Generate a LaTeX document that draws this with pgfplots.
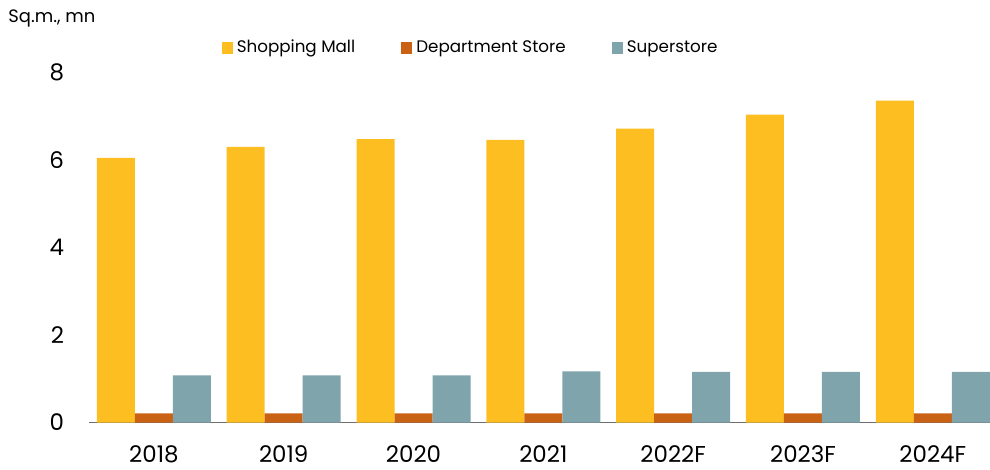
\documentclass[border=0pt]{standalone}
\usepackage{pgfplots}
\pgfplotsset{compat=1.18}
\usepackage{fontspec}
\setmainfont{Poppins}
\definecolor{mallyellow}{RGB}{253,190,34}
\definecolor{deptorange}{RGB}{202,98,22}
\definecolor{superteal}{RGB}{127,164,172}
\definecolor{axisgray}{RGB}{110,110,110}

\begin{document}
\begin{tikzpicture}
  % frame of 990x470 px, 1 px = 0.5 bp
  \useasboundingbox (0bp,0bp) rectangle (495bp,235bp);
  \clip (0bp,0bp) rectangle (495bp,235bp);
  \begin{axis}[
      at={(44.5bp,23.75bp)}, anchor=south west,
      scale only axis,
      width=451.1bp, height=175bp,
      ybar=0pt, bar width=19bp,
      xmin=-0.5, xmax=6.45, ymin=0, ymax=8,
      xtick={0,...,6},
      xticklabels={2018,2019,2020,2021,2022F,2023F,2024F},
      ytick={0,2,4,6,8},
      axis x line=bottom, axis y line=left,
      x axis line style={axisgray, line width=0.8pt, -},
      y axis line style={draw=none},
      major tick length=0pt,
      xticklabel style={font=\fontsize{11.5}{12}\selectfont, yshift=-8bp},
      yticklabel style={font=\fontsize{11.5}{12}\selectfont, xshift=-9bp},
      /pgf/number format/assume math mode=true,
      clip=false,
      legend style={at={(0.424,1.07)}, anchor=center,
        draw=none, legend columns=3, font=\fontsize{8.4}{9}\selectfont,
        /tikz/every even column/.append style={column sep=21bp}},
      legend image code/.code={\fill[#1] (0bp,-2.8bp) rectangle (5.6bp,2.8bp);},
    ]
    \addplot[fill=mallyellow, draw=none] coordinates {(0,6.05)(1,6.30)(2,6.48)(3,6.46)(4,6.72)(5,7.04)(6,7.36)};
    \addlegendentry{Shopping Mall}
    \addplot[fill=deptorange, draw=none] coordinates {(0,0.21)(1,0.21)(2,0.21)(3,0.21)(4,0.21)(5,0.21)(6,0.21)};
    \addlegendentry{Department Store}
    \addplot[fill=superteal, draw=none] coordinates {(0,1.08)(1,1.08)(2,1.08)(3,1.17)(4,1.16)(5,1.16)(6,1.16)};
    \addlegendentry{Superstore}
  \end{axis}
  \node[anchor=west, font=\fontsize{9}{10}\selectfont, inner sep=0pt] at (4bp,225.5bp) {Sq.m., mn};
\end{tikzpicture}
\end{document}
